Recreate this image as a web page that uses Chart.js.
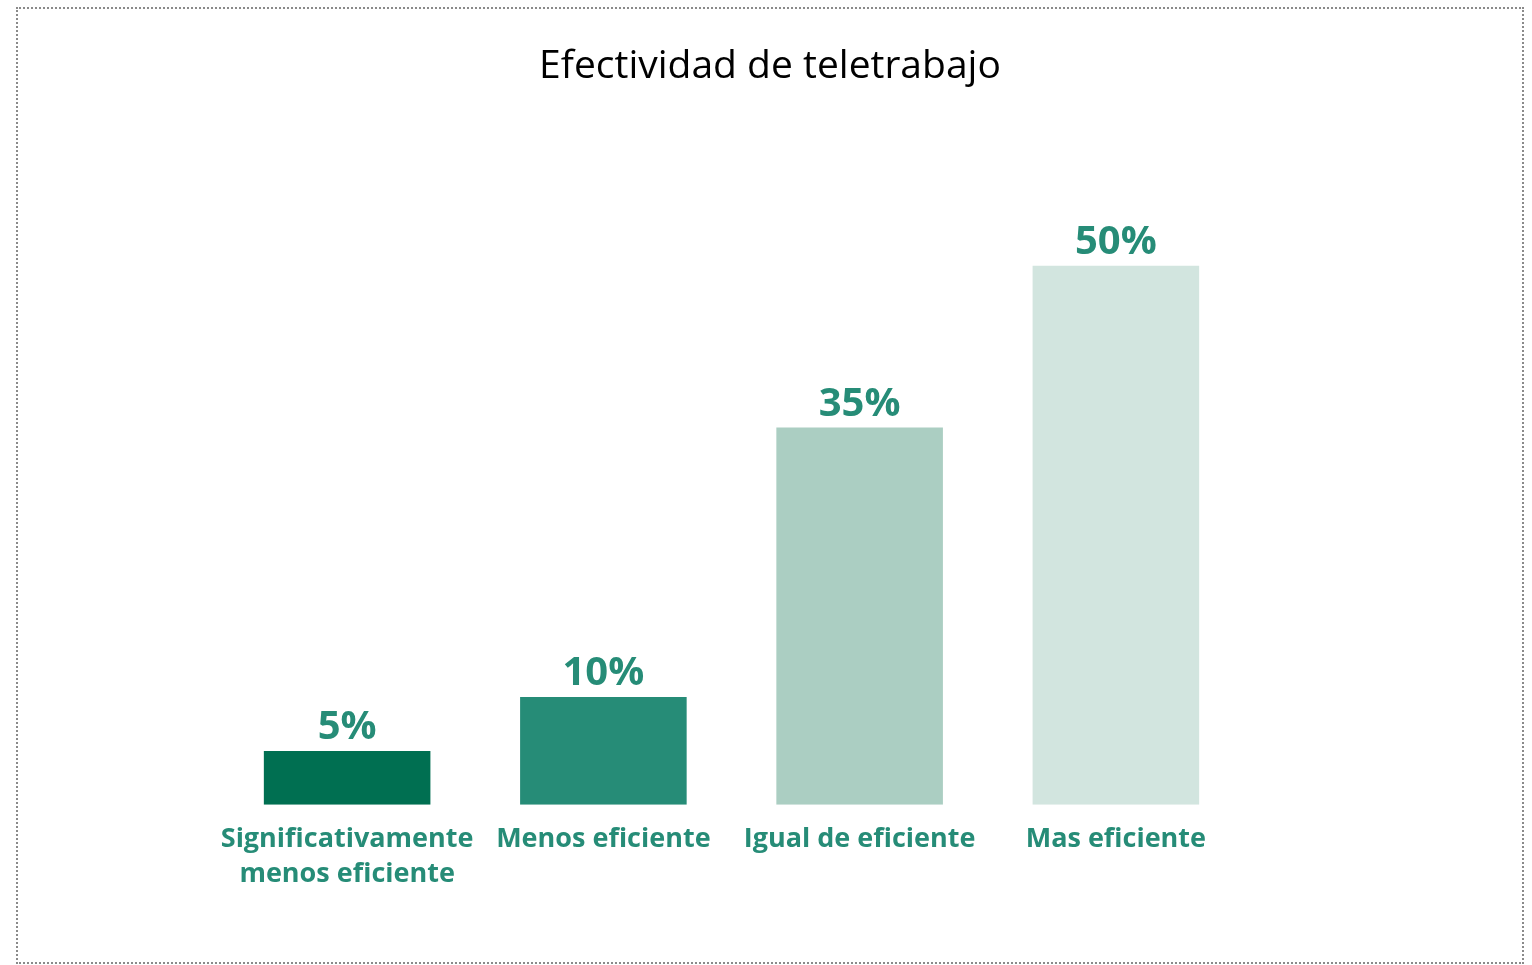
<!DOCTYPE html>
<html>
<head>
<meta charset="utf-8">
<script src="https://cdn.jsdelivr.net/npm/chart.js"></script>
<style>
    html, body { margin: 0; padding: 0; background: #fff; }
    #chart-container {
        position: absolute;
        left: 16px; top: 7px;
        width: 1508px; height: 957px;
        box-sizing: border-box;
        border: 2px dotted #8a8a8a;
    }
</style>
</head>
<body>
<div id="chart-container"><canvas id="bar-chart"></canvas></div>
<script>
const title = 'Efectividad de teletrabajo';
const categories = [
    ['Significativamente', 'menos eficiente'],
    'Menos eficiente',
    'Igual de eficiente',
    'Mas eficiente'
];
const values = [5, 10, 35, 50];
const valueLabels = ['5%', '10%', '35%', '50%'];
const barColors = ['#006F51', '#268C77', '#ABCEC2', '#D2E5DF'];

const FONT = '"Open Sans", Lato, sans-serif';
const TEAL = '#268C77';

// title centred on the whole canvas + % labels on top of the bars
const labelsPlugin = {
    id: 'labels',
    afterDatasetsDraw(chart) {
        const ctx = chart.ctx;
        ctx.save();
        ctx.textAlign = 'center';
        ctx.textBaseline = 'alphabetic';

        ctx.font = '39px ' + FONT;
        ctx.fillStyle = '#000';
        ctx.fillText(title, chart.width / 2, 69);

        ctx.font = 'bold 40px ' + FONT;
        ctx.fillStyle = TEAL;
        chart.getDatasetMeta(0).data.forEach((bar, i) => {
            ctx.fillText(valueLabels[i], bar.x, bar.y - 12);
        });
        ctx.restore();
    }
};

const ctx = document.getElementById('bar-chart');

new Chart(ctx, {
    type: 'bar',
    data: {
        labels: categories,
        datasets: [{
            data: values,
            backgroundColor: barColors,
            barPercentage: 0.65,
            categoryPercentage: 1.0
        }]
    },
    options: {
        responsive: true,
        maintainAspectRatio: false,
        animation: false,
        layout: {
            padding: { left: 201, right: 278, top: 149, bottom: 61 }
        },
        plugins: {
            legend: { display: false },
            tooltip: { enabled: false }
        },
        scales: {
            x: {
                grid: { display: false },
                border: { display: false },
                ticks: {
                    color: TEAL,
                    padding: 9,
                    maxRotation: 0,
                    autoSkip: false,
                    font: { family: FONT, size: 27, weight: 'bold', lineHeight: 1.3 }
                }
            },
            y: {
                display: false,
                min: 0,
                max: 60
            }
        }
    },
    plugins: [labelsPlugin]
});
</script>
</body>
</html>
